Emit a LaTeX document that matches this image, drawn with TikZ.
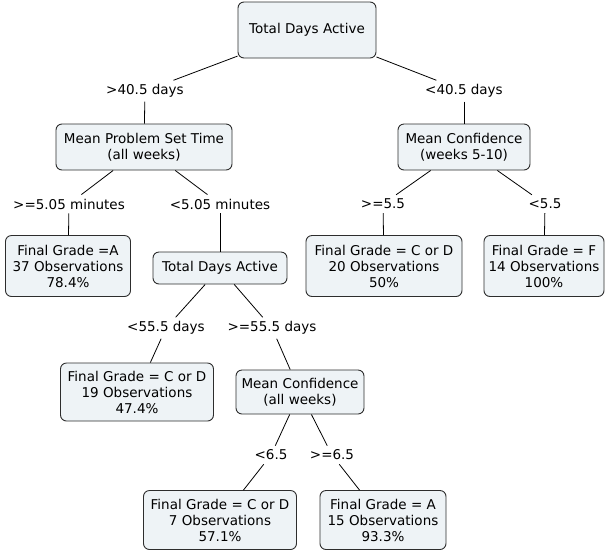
\documentclass[tikz,border=0pt]{standalone}
\usepackage{fontspec}
\setmainfont{DejaVu Sans}
\usetikzlibrary{positioning}
\definecolor{boxfill}{RGB}{238,243,246}
\definecolor{boxline}{RGB}{45,45,45}
\tikzset{
    thick,
    %Decision and leaf boxes
    punkt/.style={
      rectangle,
      rounded corners=6pt,
      draw=boxline, line width=0.9pt,
      fill=boxfill,
      align=center,
      font=\fontsize{13.5}{16}\selectfont,
      inner sep=2pt},
    %Split conditions on the branches
    cond/.style={
      align=center,
      font=\fontsize{13.5}{16}\selectfont,
      inner sep=4pt},
    branch/.style={draw=black, line width=0.8pt}
}
\begin{document}
\begin{tikzpicture}[x=1pt,y=-1pt]
    \useasboundingbox (0,0) rectangle (605,550);
    \node (root) [punkt, minimum width=138pt, minimum height=56pt] at (307,30)
          {Total Days Active};
    \node (gt405) [cond] at (145,91) {>40.5 days};
    \node (lt405) [cond] at (464,91) {<40.5 days};
    \node (mpst) [punkt, minimum width=176pt, minimum height=46pt] at (144,147)
          {Mean Problem Set Time\\(all weeks)};
    \node (mconf) [punkt, minimum width=132pt, minimum height=46pt] at (464,147)
          {Mean Confidence\\(weeks 5-10)};
    \node (ge505) [cond] at (69,204) {>=5.05 minutes};
    \node (lt505) [cond] at (220,204) {<5.05 minutes};
    \node (ge55) [cond] at (383,204) {>=5.5};
    \node (lt55) [cond] at (545,204) {<5.5};
    \node (gradeA) [punkt, minimum width=125pt, minimum height=61pt] at (68,266)
          {Final Grade =A\\37 Observations\\78.4\%};
    \node (tda) [punkt, minimum width=134pt, minimum height=32pt] at (220,268)
          {Total Days Active};
    \node (gradeCD) [punkt, minimum width=156pt, minimum height=61pt] at (384,266)
          {Final Grade = C or D\\20 Observations\\50\%};
    \node (gradeF) [punkt, minimum width=120pt, minimum height=61pt] at (544,266)
          {Final Grade = F\\14 Observations\\100\%};
    \node (lt555) [cond] at (166,328) {<55.5 days};
    \node (ge555) [cond] at (272,328) {>=55.5 days};
    \node (gradeCDb) [punkt, minimum width=153pt, minimum height=58pt] at (137,392)
          {Final Grade = C or D\\19 Observations\\47.4\%};
    \node (mconfall) [punkt, minimum width=128pt, minimum height=44pt] at (300,392)
          {Mean Confidence\\(all weeks)};
    \node (lt65) [cond] at (271,455) {<6.5};
    \node (ge65) [cond] at (332,455) {>=6.5};
    \node (gradeCDc) [punkt, minimum width=153pt, minimum height=59pt] at (220,520)
          {Final Grade = C or D\\7 Observations\\57.1\%};
    \node (gradeAb) [punkt, minimum width=126pt, minimum height=59pt] at (383,520)
          {Final Grade = A\\15 Observations\\93.3\%};
    % branches
    \draw [branch] (root) -- (gt405);
    \draw [branch] (root) -- (lt405);
    \draw [branch] (gt405) -- (mpst);
    \draw [branch] (lt405) -- (mconf);
    \draw [branch] (mpst) -- (ge505);
    \draw [branch] (mpst) -- (lt505);
    \draw [branch] (ge505) -- (gradeA);
    \draw [branch] (lt505) -- (tda);
    \draw [branch] (mconf) -- (ge55);
    \draw [branch] (mconf) -- (lt55);
    \draw [branch] (ge55) -- (gradeCD);
    \draw [branch] (lt55) -- (gradeF);
    \draw [branch] (tda) -- (lt555);
    \draw [branch] (tda) -- (ge555);
    \draw [branch] (lt555) -- (gradeCDb);
    \draw [branch] (ge555) -- (mconfall);
    \draw [branch] (mconfall) -- (lt65);
    \draw [branch] (mconfall) -- (ge65);
    \draw [branch] (lt65) -- (gradeCDc);
    \draw [branch] (ge65) -- (gradeAb);
\end{tikzpicture}
\end{document}
